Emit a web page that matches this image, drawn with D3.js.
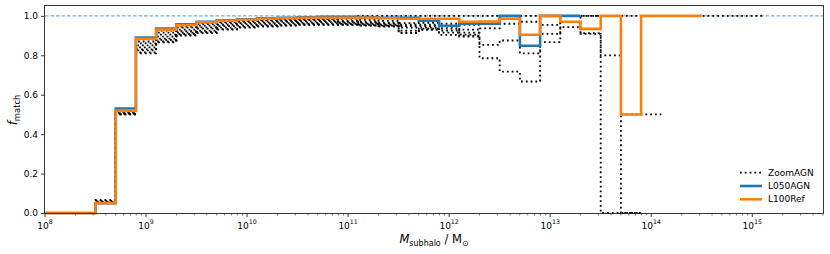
<!DOCTYPE html>
<html><head><meta charset="utf-8">
<script src="https://cdn.jsdelivr.net/npm/d3@7"></script>
<style>body{margin:0;background:#fff} svg{display:block} text{font-family:"DejaVu Sans",sans-serif;fill:#000}</style>
</head><body><svg id="c" width="830" height="254"></svg>
<script>
// log10(M_subhalo / Msun) bin edges
const logMassEdges = [7.9, 8.1, 8.3, 8.5, 8.7, 8.9, 9.1, 9.3, 9.5, 9.7, 9.9, 10.1, 10.3, 10.5, 10.7, 10.9, 11.1, 11.3, 11.5, 11.7, 11.9, 12.1, 12.3, 12.5, 12.7, 12.9, 13.1, 13.3, 13.5, 13.7, 13.9, 14.1, 14.3, 14.5, 14.7, 14.9, 15.1];
const xTickExponents = [8, 9, 10, 11, 12, 13, 14, 15];
const yTicks = [0.0, 0.2, 0.4, 0.6, 0.8, 1.0];

const L100Ref = [0, 0, 0, 0.05, 0.518, 0.883, 0.93, 0.953, 0.967, 0.975, 0.98, 0.985, 0.988, 0.99, 0.99, 0.99, 0.99, 0.988, 0.985, 0.985, 0.985, 0.97, 0.971, 0.985, 0.904, 1.0, 0.97, 0.934, 1.0, 0.5, 1.0, 1.0, 1.0, null, null, null];
const L050AGN = [0, 0, 0, 0.05, 0.53, 0.89, 0.935, 0.957, 0.97, 0.978, 0.983, 0.987, 0.99, 0.993, 0.995, 0.995, 0.993, 0.99, 0.99, 0.975, 0.95, 0.96, 0.96, 1.0, 0.848, 1.0, 1.0, null, null, null, null, null, null, null, null, null];

const zoomA = [null, 0, 0, 0.066, 0.51, 0.87, 0.925, 0.946, 0.963, 0.972, 0.978, 0.98, 0.983, 0.985, 0.987, 0.99, 1.0, 1.0, 1.0, 1.0, 1.0, 1.0, 1.0, 1.0, 1.0, 1.0, 1.0, 1.0, 1.0, 1.0, 1.0, 1.0, 1.0, 1.0, 1.0, 1.0];
const zoomB = [null, 0, 0, 0.062, 0.508, 0.86, 0.915, 0.94, 0.958, 0.968, 0.975, 0.977, 0.98, 0.982, 0.984, 0.985, 0.98, 0.975, 0.963, 0.965, 0.96, 0.954, 0.937, 0.96, 0.97, 0.954, 1.0, 1.0, 1.0, 0.5, 0.5, null, null, null, null, null];
const zoomC = [null, 0, 0, 0.058, 0.506, 0.85, 0.905, 0.93, 0.95, 0.962, 0.97, 0.972, 0.975, 0.978, 0.978, 0.975, 0.97, 0.965, 0.955, 0.955, 0.945, 0.93, 0.785, 0.717, 0.667, 0.867, 0.943, 0.909, 0, 0, null, null, null, null, null, null];
const zoomD = [null, 0, 0, 0.056, 0.505, 0.84, 0.895, 0.922, 0.942, 0.955, 0.963, 0.966, 0.97, 0.972, 0.974, 0.97, 0.965, 0.96, 0.948, 0.948, 0.935, 0.9, 0.853, 0.875, 0.81, 0.909, 1.0, 0.912, 0.8, 0, null, null, null, null, null, null];
const zoomE = [null, 0, 0, 0.055, 0.503, 0.83, 0.885, 0.915, 0.935, 0.948, 0.957, 0.96, 0.963, 0.966, 0.968, 0.965, 0.96, 0.955, 0.94, 0.94, 0.925, 0.915, null, null, null, null, null, null, null, null, null, null, null, null, null, null];
const zoomF = [null, 0, 0, 0.053, 0.502, 0.825, 0.878, 0.908, 0.925, 0.94, 0.95, 0.953, 0.957, 0.96, 0.962, 0.96, 0.955, 0.95, 0.925, 0.935, 0.915, 0.905, null, null, null, null, null, null, null, null, null, null, null, null, null, null];
const zoomG = [null, 0, 0, 0.05, 0.5, 0.815, 0.87, 0.902, 0.918, 0.933, 0.944, 0.948, 0.952, 0.956, 0.957, 0.956, 0.952, 0.948, 0.915, 0.93, 0.904, 0.895, null, null, null, null, null, null, null, null, null, null, null, null, null, null];
const zoomH = [null, 0, 0, 0.05, 0.5, 0.81, 0.865, 0.9, 0.912, 0.93, 0.94, 0.946, 0.95, 0.955, 0.955, 0.955, 0.95, 0.946, 0.912, 0.93, null, null, null, null, null, null, null, null, null, null, null, null, null, null, null, null];
const zoomSeries = [zoomA, zoomB, zoomC, zoomD, zoomE, zoomF, zoomG, zoomH];

const legendLabels = ["ZoomAGN", "L050AGN", "L100Ref"];

const svg = d3.select("#c");
const X0 = 45, X1 = 823, Y0 = 213, Y1 = 6;
const x = d3.scaleLog().domain([1e8, Math.pow(10, 15.7)]).range([X0, X1]);
const y = d3.scaleLinear().domain([0, 1.05]).range([Y0, Y1]);

svg.append("defs").append("clipPath").attr("id", "clip")
  .append("rect").attr("x", X0).attr("y", 0).attr("width", X1 - X0).attr("height", 254);

const plot = svg.append("g").attr("clip-path", "url(#clip)");

// reference line at 1
plot.append("line").attr("x1", X0).attr("x2", X1).attr("y1", y(1)).attr("y2", y(1))
  .attr("stroke", "#72b3e0").attr("stroke-width", 1.1).attr("stroke-dasharray", "3.7,1.8");

function segments(vals) {
  const segs = []; let cur = null;
  vals.forEach((v, i) => {
    if (v == null) { if (cur) { segs.push(cur); cur = null; } return; }
    if (!cur) cur = [];
    cur.push([logMassEdges[i], v]);
    if (i + 1 >= vals.length || vals[i + 1] == null) cur.push([logMassEdges[i + 1], v]);
  });
  if (cur) segs.push(cur);
  return segs;
}
const line = d3.line().x(d => x(Math.pow(10, d[0]))).y(d => y(d[1])).curve(d3.curveStepAfter);

zoomSeries.forEach(s => {
  segments(s).forEach(seg => {
    plot.append("path").attr("d", line(seg)).attr("fill", "none")
      .attr("stroke", "#000").attr("stroke-width", 1.8).attr("stroke-dasharray", "1.8,3");
  });
});
[[L050AGN, "#1f77b4"], [L100Ref, "#ff7f0e"]].forEach(([s, c]) => {
  segments(s).forEach(seg => {
    plot.append("path").attr("d", line(seg)).attr("fill", "none")
      .attr("stroke", c).attr("stroke-width", 2.6);
  });
});

// frame
svg.append("rect").attr("x", X0 - 0.5).attr("y", Y1 - 0.5).attr("width", X1 - X0 + 1).attr("height", Y0 - Y1 + 1)
  .attr("fill", "none").attr("stroke", "#222").attr("stroke-width", 0.9);

// y axis
const yAxis = d3.axisLeft(y).tickValues(yTicks).tickFormat(d3.format(".1f")).tickSize(3.5).tickPadding(3).tickSizeOuter(0);
const gy = svg.append("g").attr("transform", `translate(${X0 - 0.5},0)`).call(yAxis);
gy.select(".domain").remove();
gy.selectAll("text").style("font-size", "9px").style("font-family", "DejaVu Sans");
gy.selectAll("line").attr("stroke", "#222").attr("stroke-width", 0.9);

// x axis major ticks
const gx = svg.append("g");
xTickExponents.forEach(e => {
  const px = x(Math.pow(10, e));
  gx.append("line").attr("x1", px).attr("x2", px).attr("y1", Y0 + 0.5).attr("y2", Y0 + 4)
    .attr("stroke", "#222").attr("stroke-width", 0.9);
  const t = gx.append("text").attr("x", px).attr("y", 228.5).attr("text-anchor", "middle").style("font-size", "9px");
  t.append("tspan").text("10");
  t.append("tspan").attr("dy", -4.3).style("font-size", "6.3px").text(String(e));
});
// minor ticks
for (let e = 8; e <= 15; e++) {
  for (let m = 2; m <= 9; m++) {
    const v = m * Math.pow(10, e);
    if (v > x.domain()[1]) continue;
    const px = x(v);
    gx.append("line").attr("x1", px).attr("x2", px).attr("y1", Y0 + 0.5).attr("y2", Y0 + 2.5)
      .attr("stroke", "#222").attr("stroke-width", 0.6);
  }
}

// axis labels
const xl = svg.append("text").attr("x", (X0 + X1) / 2).attr("y", 243).attr("text-anchor", "middle").style("font-size", "11.5px");
xl.append("tspan").style("font-style", "italic").text("M");
xl.append("tspan").attr("dy", 2.5).style("font-size", "8px").text("subhalo");
xl.append("tspan").attr("dy", -2.5).text(" / M");
xl.append("tspan").attr("dy", 2.5).style("font-size", "8px").text("\u2299");

const yl = svg.append("text").attr("transform", "translate(17,110) rotate(-90)").attr("text-anchor", "middle").style("font-size", "12px");
yl.append("tspan").style("font-style", "italic").text("f");
yl.append("tspan").attr("dy", 2.5).style("font-size", "8.4px").text("match");

// legend
const legY = [172.7, 186, 199.3];
const legStyles = [
  {stroke: "#000", w: 1.8, dash: "1.8,3"},
  {stroke: "#1f77b4", w: 2.6, dash: null},
  {stroke: "#ff7f0e", w: 2.6, dash: null}
];
legendLabels.forEach((lab, i) => {
  const st = legStyles[i];
  const l = svg.append("line").attr("x1", 740).attr("x2", 762).attr("y1", legY[i]).attr("y2", legY[i])
    .attr("stroke", st.stroke).attr("stroke-width", st.w);
  if (st.dash) l.attr("stroke-dasharray", st.dash);
  svg.append("text").attr("x", 768).attr("y", legY[i]).attr("dy", "0.35em").style("font-size", "9px").text(lab);
});
</script>
</body></html>
